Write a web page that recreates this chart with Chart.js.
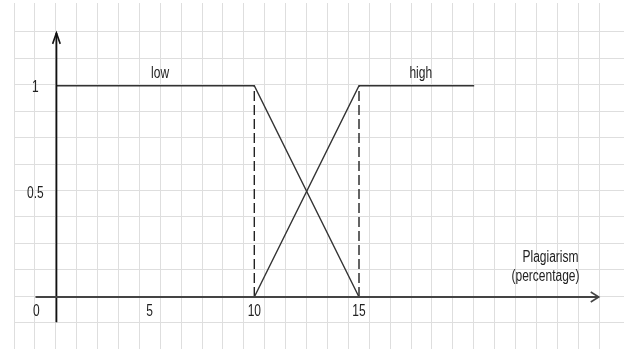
<!DOCTYPE html>
<html>
<head>
<meta charset="utf-8">
<script src="https://cdn.jsdelivr.net/npm/chart.js@4"></script>
<style>
  html, body { margin: 0; padding: 0; background: #fff; }
  #wrap { width: 624px; height: 349px; }
</style>
</head>
<body>
<div id="wrap"><canvas id="myChart"></canvas></div>
<script>
// membership functions (x = plagiarism %, y = membership degree)
const lowX = [0.55, 10, 15]
const lowY = [1, 1, 0]
const highX = [10, 15, 20.5]
const highY = [0, 1, 1]
const dash10 = [[10, 0], [10, 1]]
const dash15 = [[15, 0], [15, 1]]
const xAxisLine = [[-0.45, 0], [26.45, 0]]
const yAxisLine = [[0.55, -0.12], [0.55, 1.25]]
const xTickLabels = ['0', '5', '10', '15']
const xTickValues = [0, 5, 10, 15]
const yTickLabels = ['0.5', '1']
const yTickValues = [0.5, 1]
const setNames = ['low', 'high']
const setLabelX = [5.5, 17.95]

const toPts = (xs, ys) => xs.map((x, i) => ({ x: x, y: ys[i] }))
const pairPts = arr => arr.map(p => ({ x: p[0], y: p[1] }))

const ctx = document.getElementById('myChart')

function txt(c, s, x, y) {
  c.save()
  c.translate(x, y)
  c.scale(1, 1.3)
  c.fillText(s, 0, 0)
  c.restore()
}

const extras = {
  id: 'extras',
  afterDatasetsDraw(chart) {
    const c = chart.ctx
    const xs = chart.scales.x
    const ys = chart.scales.y

    // arrow heads
    c.save()
    c.lineWidth = 1.6
    c.strokeStyle = '#444'
    let tx = xs.getPixelForValue(xAxisLine[1][0])
    let ty = ys.getPixelForValue(xAxisLine[1][1])
    c.beginPath()
    c.moveTo(tx - 8, ty - 5)
    c.lineTo(tx, ty)
    c.lineTo(tx - 8, ty + 5)
    c.stroke()
    c.strokeStyle = '#111'
    tx = xs.getPixelForValue(yAxisLine[1][0])
    ty = ys.getPixelForValue(yAxisLine[1][1])
    c.beginPath()
    c.moveTo(tx - 3.8, ty + 11)
    c.lineTo(tx, ty)
    c.lineTo(tx + 3.8, ty + 11)
    c.stroke()

    // texts
    c.fillStyle = '#222'
    c.font = '12px "Liberation Sans", Arial, sans-serif'
    c.textAlign = 'center'
    c.textBaseline = 'middle'
    const axX = xs.getPixelForValue(yAxisLine[0][0])
    const y0 = ys.getPixelForValue(0)
    xTickValues.forEach((v, i) => {
      let px = v === 0 ? axX - 20 : xs.getPixelForValue(v)
      txt(c, xTickLabels[i], px, y0 + 15)
    })
    yTickValues.forEach((v, i) => {
      txt(c, yTickLabels[i], axX - 21, ys.getPixelForValue(v) + 2)
    })
    const y1 = ys.getPixelForValue(1)
    setNames.forEach((n, i) => {
      txt(c, n, xs.getPixelForValue(setLabelX[i]), y1 - 12)
    })
    txt(c, 'Plagiarism', 550.5, y0 - 39)
    txt(c, '(percentage)', 545.5, y0 - 20)
    c.restore()
  }
}

const base = { showLine: true, pointRadius: 0, fill: false, tension: 0, clip: false }

new Chart(ctx, {
  type: 'scatter',
  data: {
    datasets: [
      { ...base, data: pairPts(xAxisLine), borderColor: '#444', borderWidth: 2.2 },
      { ...base, data: pairPts(yAxisLine), borderColor: '#111', borderWidth: 1.8 },
      { ...base, data: toPts(lowX, lowY), borderColor: '#333', borderWidth: 1.4 },
      { ...base, data: toPts(highX, highY), borderColor: '#333', borderWidth: 1.4 },
      { ...base, data: pairPts(dash10), borderColor: '#222', borderWidth: 1.4, borderDash: [10, 4] },
      { ...base, data: pairPts(dash15), borderColor: '#222', borderWidth: 1.4, borderDash: [10, 4] }
    ]
  },
  options: {
    responsive: true,
    maintainAspectRatio: false,
    animation: false,
    events: [],
    layout: { padding: { left: 14, top: 3, right: 0, bottom: 0 } },
    plugins: { legend: { display: false }, tooltip: { enabled: false } },
    scales: {
      x: { type: 'linear', min: -1.476, max: 27.655, display: false },
      y: { type: 'linear', min: -0.2461, max: 1.3914, display: false },
      x2: {
        type: 'linear', position: 'bottom', min: 0, max: 29.19,
        ticks: { display: false, stepSize: 1 },
        afterBuildTicks: a => { a.ticks = a.ticks.filter(t => Number.isInteger(t.value)) },
        grid: { color: '#dedede', lineWidth: 1, drawTicks: false },
        border: { display: false }
      },
      y2: {
        type: 'linear', position: 'left', min: 0, max: 13.096,
        ticks: { display: false, stepSize: 1 },
        afterBuildTicks: a => { a.ticks = a.ticks.filter(t => Number.isInteger(t.value)) },
        grid: { color: '#dedede', lineWidth: 1, drawTicks: false },
        border: { display: false }
      }
    }
  },
  plugins: [extras]
})
</script>
</body>
</html>
